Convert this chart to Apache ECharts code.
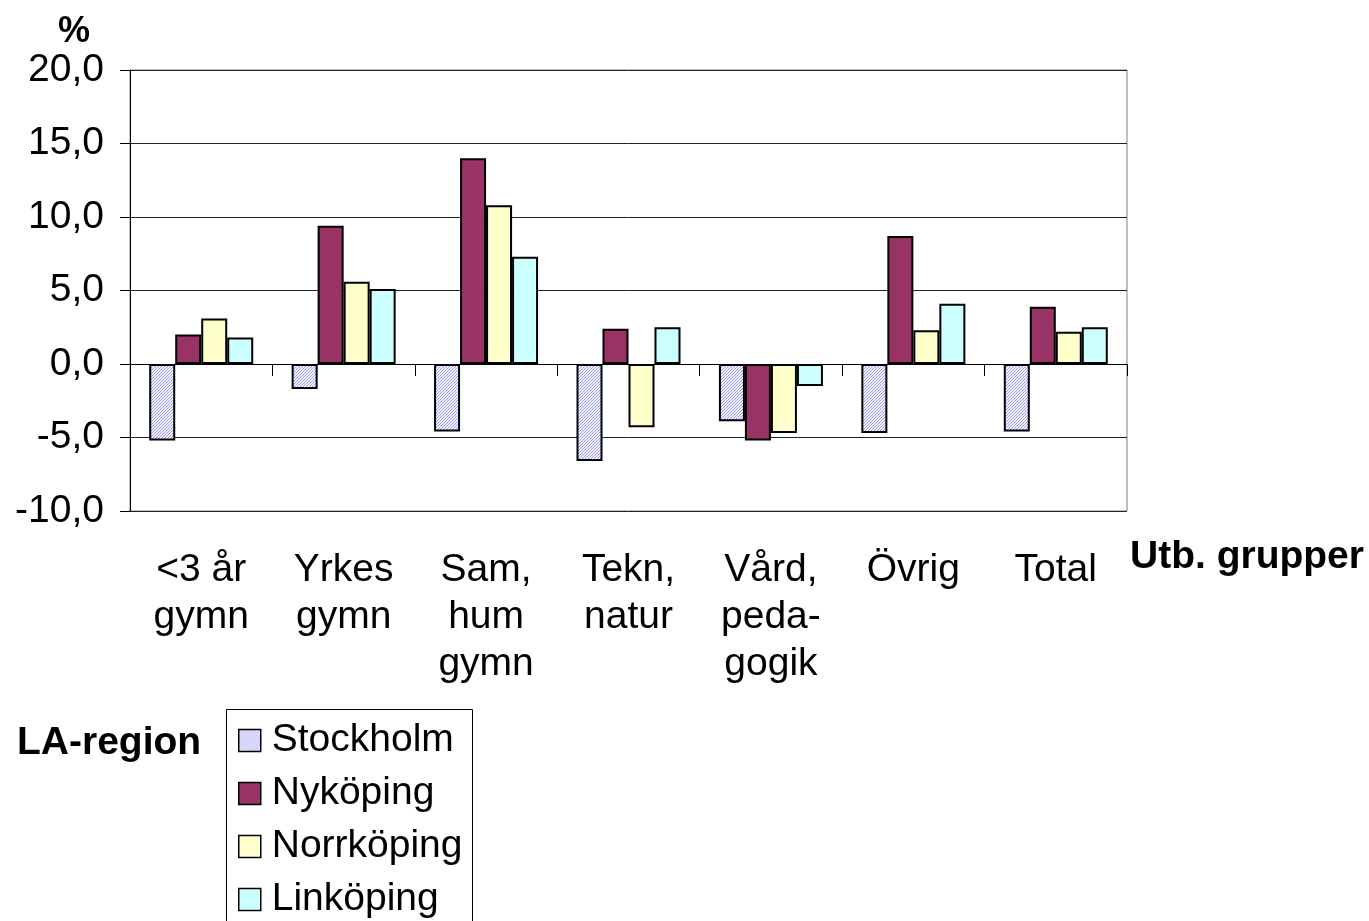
<!DOCTYPE html>
<html>
<head>
<meta charset="utf-8">
<script src="https://cdn.jsdelivr.net/npm/echarts@6/dist/echarts.min.js"></script>
<style>
html,body{margin:0;padding:0;background:#fff;}
#main{width:1369px;height:921px;}
</style>
</head>
<body>
<div id="main"></div>
<script>
const categories = ['<3 år\ngymn', 'Yrkes\ngymn', 'Sam,\nhum\ngymn', 'Tekn,\nnatur', 'Vård,\npeda-\ngogik', 'Övrig', 'Total'];
const seriesNames = ['Stockholm', 'Nyköping', 'Norrköping', 'Linköping'];
const stockholm = [-5.2, -1.7, -4.6, -6.6, -3.9, -4.7, -4.6];
const nykoping = [2.0, 9.4, 14.0, 2.4, -5.2, 8.7, 3.9];
const norrkoping = [3.1, 5.6, 10.8, -4.3, -4.7, 2.3, 2.2];
const linkoping = [1.8, 5.1, 7.3, 2.5, -1.5, 4.1, 2.5];
const yTicks = { min: -10, max: 20, interval: 5 };

const FONT = "'Liberation Sans', Arial, sans-serif";

// fine diagonal hatch pattern for Stockholm
const pc = document.createElement('canvas');
pc.width = 3; pc.height = 3;
const px = pc.getContext('2d');
px.fillStyle = '#f4f4ff';
px.fillRect(0, 0, 3, 3);
px.fillStyle = '#9c9cf4';
px.fillRect(2, 0, 1, 1);
px.fillRect(1, 1, 1, 1);
px.fillRect(0, 2, 1, 1);

const colors = [
  { image: pc, repeat: 'repeat' },
  '#993366',
  '#ffffcc',
  '#ccffff'
];
const dataSets = [stockholm, nykoping, norrkoping, linkoping];

const chart = echarts.init(document.getElementById('main'), null, { renderer: 'canvas' });

const series = dataSets.map((d, i) => ({
  name: seriesNames[i],
  type: 'bar',
  data: d,
  barWidth: 26,
  barGap: '0%',
  itemStyle: { color: colors[i], borderColor: '#000', borderWidth: 2 },
  emphasis: { disabled: true },
  animation: false
}));

const option = {
  animation: false,
  textStyle: { fontFamily: FONT },
  grid: { left: 130, top: 70, width: 997, height: 441, show: true, borderColor: '#808080', borderWidth: 1, backgroundColor: 'transparent' },
  legend: {
    orient: 'vertical',
    left: 238,
    top: 721,
    padding: 0,
    icon: 'rect',
    itemWidth: 22,
    itemHeight: 22,
    itemGap: 14,
    data: seriesNames,
    selectedMode: false,
    itemStyle: { borderWidth: 1.5, borderColor: '#000' },
    textStyle: { fontSize: 39, fontFamily: FONT, color: '#000', lineHeight: 39, padding: [0, 0, 0, 6] }
  },
  xAxis: [
    {
      type: 'category',
      data: categories,
      position: 'bottom',
      axisLine: { onZero: true, lineStyle: { color: '#000', width: 1 } },
      axisTick: { show: true, length: 12, lineStyle: { color: '#000' } },
      axisLabel: { show: false },
      splitLine: { show: false }
    },
    {
      type: 'category',
      data: categories,
      position: 'bottom',
      gridIndex: 0,
      axisLine: { show: false, onZero: false },
      axisTick: { show: false },
      axisLabel: { show: true, interval: 0, fontSize: 39, lineHeight: 47, color: '#000', margin: 36, fontFamily: FONT, align: 'center' },
      splitLine: { show: false }
    }
  ],
  yAxis: {
    type: 'value',
    min: yTicks.min,
    max: yTicks.max,
    interval: yTicks.interval,
    axisLine: { show: true, lineStyle: { color: '#000' } },
    axisTick: { show: true, length: 10, lineStyle: { color: '#000' } },
    axisLabel: { fontSize: 39, color: '#000', margin: 26, fontFamily: FONT, formatter: v => v.toFixed(1).replace('.', ',') },
    splitLine: { show: true, lineStyle: { color: '#222', width: 1 } }
  },
  series: series,
  graphic: [
    { type: 'text', left: 58, top: 14, style: { text: '%', fontSize: 36, fontWeight: 'bold', fill: '#000', fontFamily: FONT } },
    { type: 'text', left: 1130, top: 538, style: { text: 'Utb. grupper', fontSize: 39, fontWeight: 'bold', fill: '#000', fontFamily: FONT } },
    { type: 'text', left: 17, top: 724, style: { text: 'LA-region', fontSize: 39, fontWeight: 'bold', fill: '#000', fontFamily: FONT } },
    { type: 'rect', shape: { x: 226.5, y: 709.5, width: 246, height: 240 }, style: { fill: 'none', stroke: '#000', lineWidth: 1 }, z: 100 }
  ]
};
chart.setOption(option);
</script>
</body>
</html>
